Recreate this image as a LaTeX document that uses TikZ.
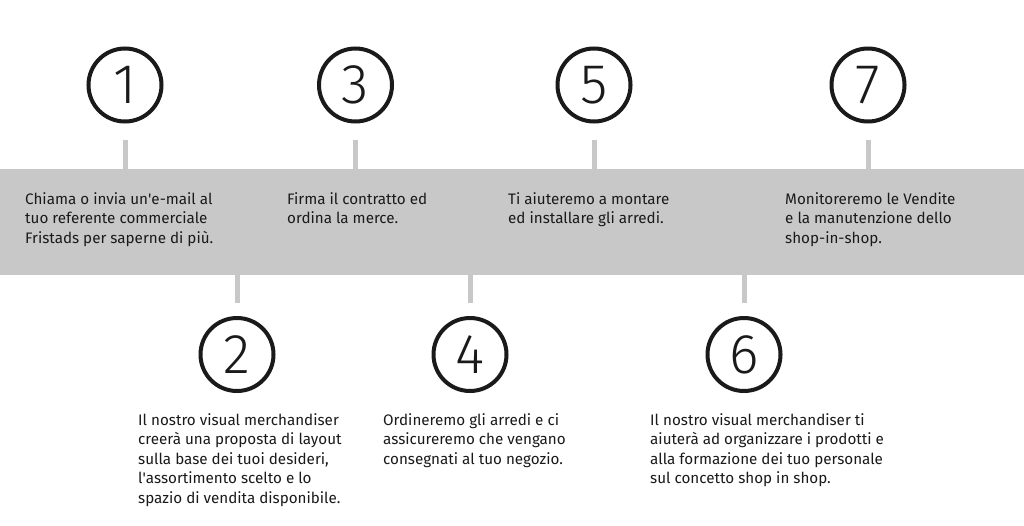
\documentclass[tikz,border=0pt]{standalone}
\usepackage{fontspec}
\setmainfont{Fira Sans}
\newfontfamily\numfont{Fira Sans Light}
\usetikzlibrary{positioning}
\definecolor{bandgray}{HTML}{C8C8C8}
\definecolor{inkblack}{HTML}{1A1A1A}

\begin{document}
\begin{tikzpicture}[x=1pt,y=-1pt,
    stepcircle/.style={circle, draw=inkblack, line width=4pt, minimum size=73pt, inner sep=0pt,
        font=\numfont\fontsize{56}{56}\selectfont, text=inkblack},
    tick/.style={draw=bandgray, line width=5pt},
    steptext/.style={anchor=north west, align=left, inner sep=0pt,
        font=\fontsize{15.2}{19.5}\selectfont, text=inkblack}]
    % Fondo e banda grigia
    \useasboundingbox[fill=white] (0,0) rectangle (1024,525);
    \node[fill=bandgray, minimum width=1024pt, minimum height=106pt, inner sep=0pt, anchor=north west] (band) at (0,169) {};
    % Passi sopra la banda
    \foreach \n/\x in {1/125,3/355.5,5/594,7/868} {
        \node[stepcircle] (c\n) at (\x,85) {\n};
        \draw[tick] ([yshift=-16pt]c\n.south) -- (c\n.south |- band.north);
    }
    % Passi sotto la banda
    \foreach \n/\x in {2/237,4/470,6/744} {
        \node[stepcircle] (c\n) at (\x,354.5) {\n};
        \draw[tick] (c\n.north |- band.south) -- ([yshift=13pt]c\n.north);
    }
    % Testi
    \node[steptext] (t1) at (25,192) {Chiama o invia un\textquotesingle e-mail al\\tuo referente commerciale\\Fristads per saperne di più.};
    \node[steptext] (t3) at (287,192) {Firma il contratto ed\\ordina la merce.};
    \node[steptext] (t5) at (508,192) {Ti aiuteremo a montare\\ed installare gli arredi.};
    \node[steptext] (t7) at (785,192) {Monitoreremo le Vendite\\e la manutenzione dello\\shop-in-shop.};
    \node[steptext] (t2) at (138,413) {Il nostro visual merchandiser\\creerà una proposta di layout\\sulla base dei tuoi desideri,\\l\textquotesingle assortimento scelto e lo\\spazio di vendita disponibile.};
    \node[steptext] (t4) at (383,413) {Ordineremo gli arredi e ci\\assicureremo che vengano\\consegnati al tuo negozio.};
    \node[steptext] (t6) at (650,413) {Il nostro visual merchandiser ti\\aiuterà ad organizzare i prodotti e\\alla formazione dei tuo personale\\sul concetto shop in shop.};
\end{tikzpicture}
\end{document}
